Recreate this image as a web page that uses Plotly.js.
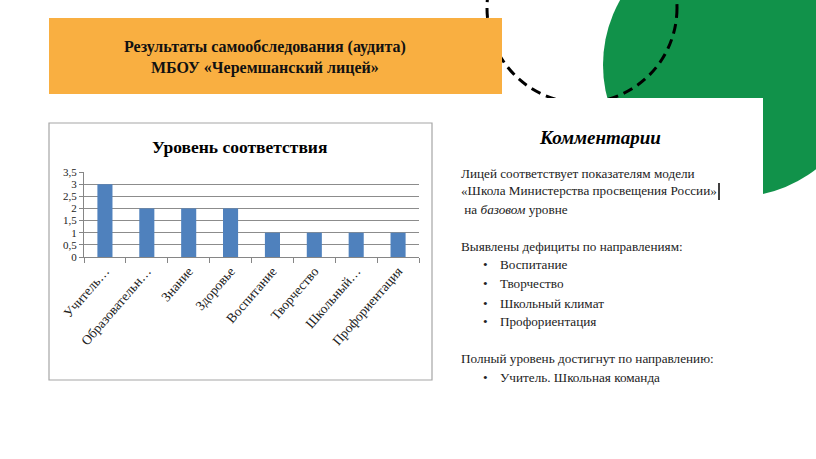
<!DOCTYPE html>
<html>
<head>
<meta charset="utf-8">
<script src="https://cdn.plot.ly/plotly-3.0.1.min.js"></script>
<style>html,body{margin:0;padding:0;background:#fff;}#chart{width:816px;height:459px;}</style>
</head>
<body>
<div id="chart"></div>
<script>
// Data
var categories = ["Учитель…", "Образовательн…", "Знание", "Здоровье", "Воспитание", "Творчество", "Школьный…", "Профориентация"];
var values = [3, 2, 2, 2, 1, 1, 1, 1];
var chartTitle = "Уровень соответствия";
var headerLines = ["Результаты самообследования (аудита)", "МБОУ «Черемшанский лицей»"];
var commentTitle = "Комментарии";
var commentLines = [
  "Лицей соответствует показателям модели",
  "«Школа Министерства просвещения России»",
  " на <i>базовом</i> уровне"
];
var deficitTitle = "Выявлены дефициты по направлениям:";
var deficits = ["Воспитание", "Творчество", "Школьный климат", "Профориентация"];
var fullTitle = "Полный уровень достигнут по направлению:";
var fullItems = ["Учитель. Школьная команда"];

var W = 816, H = 459;
function px(x){ return x / W; }
function py(y){ return 1 - y / H; }
var serif = "Liberation Serif, Times New Roman, serif";
var bodySize = 13.2;

var trace = {
  type: "bar",
  x: categories,
  y: values,
  marker: {color: "#4F81BD"},
  hoverinfo: "skip"
};

var ann = [];
ann.push({text: "<b>" + chartTitle + "</b>", x: px(239), y: py(147), xref: "paper", yref: "paper",
  showarrow: false, xanchor: "center", yanchor: "middle", font: {family: serif, size: 17.5, color: "#000"}});
headerLines.forEach(function(t, i){
  ann.push({text: "<b>" + t + "</b>", x: px(265), y: py(47 + i * 21), xref: "paper", yref: "paper",
    showarrow: false, xanchor: "center", yanchor: "middle", font: {family: serif, size: 16, color: "#111"}});
});
ann.push({text: "<b><i>" + commentTitle + "</i></b>", x: px(600), y: py(137), xref: "paper", yref: "paper",
  showarrow: false, xanchor: "center", yanchor: "middle", font: {family: serif, size: 19, color: "#000"}});
var ly = [173, 191, 210];
commentLines.forEach(function(t, i){
  ann.push({text: t, x: px(459), y: py(ly[i]), xref: "paper", yref: "paper",
    showarrow: false, xanchor: "left", yanchor: "middle", font: {family: serif, size: bodySize, color: "#222"}});
});
ann.push({text: deficitTitle, x: px(459), y: py(246), xref: "paper", yref: "paper",
  showarrow: false, xanchor: "left", yanchor: "middle", font: {family: serif, size: bodySize, color: "#222"}});
var dy = [264, 283, 303, 321];
deficits.forEach(function(t, i){
  ann.push({text: "•", x: px(481), y: py(dy[i]), xref: "paper", yref: "paper",
    showarrow: false, xanchor: "left", yanchor: "middle", font: {family: serif, size: bodySize, color: "#222"}});
  ann.push({text: t, x: px(498), y: py(dy[i]), xref: "paper", yref: "paper",
    showarrow: false, xanchor: "left", yanchor: "middle", font: {family: serif, size: bodySize, color: "#222"}});
});
ann.push({text: fullTitle, x: px(459), y: py(358), xref: "paper", yref: "paper",
  showarrow: false, xanchor: "left", yanchor: "middle", font: {family: serif, size: bodySize, color: "#222"}});
fullItems.forEach(function(t, i){
  ann.push({text: "•", x: px(481), y: py(377 + i * 19), xref: "paper", yref: "paper",
    showarrow: false, xanchor: "left", yanchor: "middle", font: {family: serif, size: bodySize, color: "#222"}});
  ann.push({text: t, x: px(498), y: py(377 + i * 19), xref: "paper", yref: "paper",
    showarrow: false, xanchor: "left", yanchor: "middle", font: {family: serif, size: bodySize, color: "#222"}});
});

var shapes = [
  {type: "circle", xref: "paper", yref: "paper", layer: "below",
   x0: px(603), x1: px(867), y0: py(197), y1: py(-67), fillcolor: "#11924A", line: {width: 0}},
  {type: "circle", xref: "paper", yref: "paper", layer: "below",
   x0: px(487), x1: px(677), y0: py(103), y1: py(-87), fillcolor: "rgba(0,0,0,0)",
   line: {color: "#000", width: 3, dash: "10px,6px"}},
  {type: "rect", xref: "paper", yref: "paper", layer: "below",
   x0: px(49), x1: px(502), y0: py(94), y1: py(18), fillcolor: "#F9AF41", line: {width: 0}},
  {type: "rect", xref: "paper", yref: "paper", layer: "below",
   x0: px(440), x1: px(763), y0: py(459), y1: py(98), fillcolor: "#FFFFFF", line: {width: 0}},
  {type: "rect", xref: "paper", yref: "paper", layer: "below",
   x0: px(49), x1: px(432), y0: py(380), y1: py(123), fillcolor: "rgba(0,0,0,0)", line: {color: "#A6A6A6", width: 1.2}},
  {type: "line", xref: "paper", yref: "paper", layer: "above",
   x0: px(719), x1: px(719), y0: py(200), y1: py(183), line: {color: "#000", width: 1.5}}
];

var layout = {
  width: W, height: H,
  margin: {l: 0, r: 0, t: 0, b: 0, pad: 0},
  paper_bgcolor: "#FFFFFF",
  plot_bgcolor: "rgba(0,0,0,0)",
  separators: ", ",
  showlegend: false,
  bargap: 0.64,
  xaxis: {
    domain: [px(84), px(419)],
    type: "category",
    showline: true, linecolor: "#868686", linewidth: 1,
    ticks: "outside", tickson: "boundaries", ticklen: 5, tickcolor: "#868686",
    tickangle: -49,
    tickfont: {family: serif, size: 13.5, color: "#222"},
    showgrid: false, zeroline: false, fixedrange: true
  },
  yaxis: {
    domain: [py(257), py(172)],
    range: [0, 3.5],
    dtick: 0.5, tick0: 0,
    showgrid: true, gridcolor: "#8C8C8C", gridwidth: 1,
    showline: true, linecolor: "#868686", linewidth: 1,
    ticks: "outside", ticklen: 4, tickcolor: "#868686",
    tickfont: {family: serif, size: 11, color: "#222"},
    zeroline: false, fixedrange: true
  },
  shapes: shapes,
  annotations: ann
};

Plotly.newPlot("chart", [trace], layout, {displayModeBar: false, staticPlot: true});
</script>
</body>
</html>
